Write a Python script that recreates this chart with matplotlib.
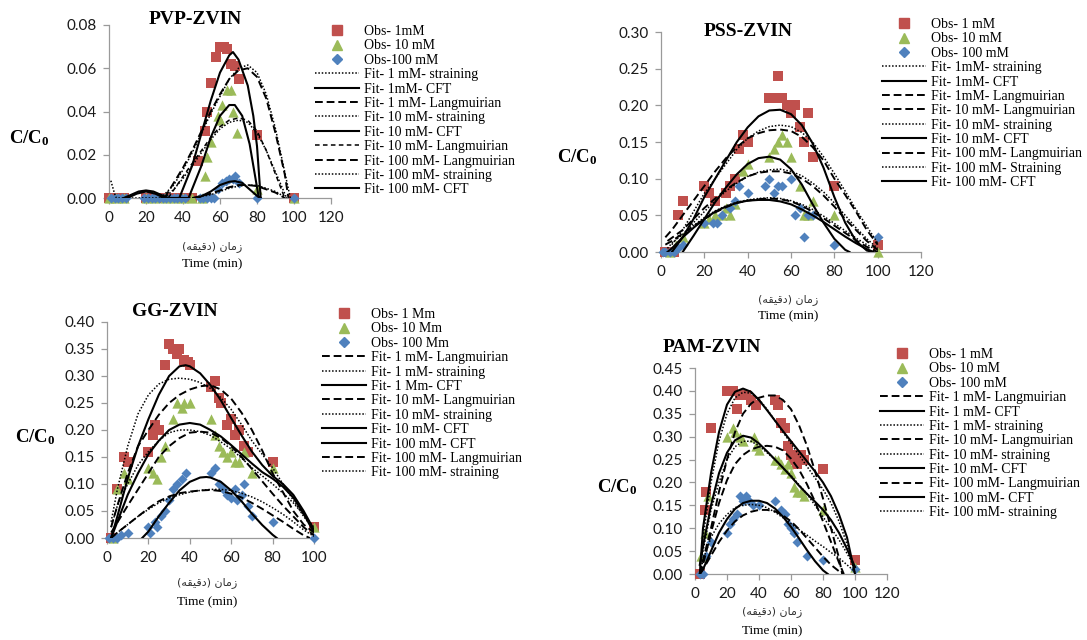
import matplotlib
matplotlib.use("Agg")
import matplotlib.pyplot as plt
from matplotlib.lines import Line2D

plt.rcParams['mathtext.fontset'] = 'custom'
plt.rcParams['mathtext.rm'] = 'Liberation Serif'
plt.rcParams['mathtext.bf'] = 'Liberation Serif:bold'

RED, GREEN, BLUE = '#C0504D', '#9BBB59', '#4F81BD'

# ---------------- PVP-ZVIN ----------------
pvp_x_1mm = [0, 4, 8, 20, 25, 30, 35, 40, 45, 48, 52, 53, 55, 58, 60, 62, 64, 66, 68, 70, 80, 100]
pvp_y_1mm = [0, 0, 0, 0, 0, 0, 0, 0, 0, 0.017, 0.031, 0.040, 0.053, 0.065, 0.070, 0.070, 0.069, 0.062, 0.061, 0.055, 0.029, 0]
pvp_x_10mm = [0, 4, 8, 20, 25, 30, 35, 40, 45, 50, 52, 53, 55, 59, 60, 61, 64, 66, 67, 69, 80, 100]
pvp_y_10mm = [0, 0, 0, 0, 0, 0, 0, 0, 0, 0, 0.010, 0.019, 0.026, 0.038, 0.036, 0.043, 0.050, 0.050, 0.040, 0.030, 0.004, 0]
pvp_x_100mm = [1, 3, 5, 7, 9, 19, 21, 23, 25, 27, 29, 31, 33, 35, 37, 39, 41, 49, 51, 53, 55, 57, 59, 61, 63, 65, 67, 68, 70, 80, 100]
pvp_y_100mm = [0, 0, 0, 0, 0, 0, 0, 0, 0, 0, 0, 0, 0, 0, 0, 0, 0, 0, 0, 0, 0, 0, 0.004, 0.007, 0.008, 0.009, 0.009, 0.010, 0.007, 0, 0]

pvp_fit_1mm_str_x = [28, 35, 40, 45, 50, 55, 60, 65, 70, 75, 80, 85, 90, 95, 98]
pvp_fit_1mm_str_y = [0, 0.006, 0.013, 0.021, 0.030, 0.039, 0.047, 0.055, 0.060, 0.0615, 0.058, 0.048, 0.032, 0.012, 0]
pvp_fit_1mm_cft_x = [8, 12, 16, 20, 24, 28, 32, 38, 45, 50, 55, 60, 65, 67, 70, 75, 78, 80, 82]
pvp_fit_1mm_cft_y = [0, 0.0015, 0.003, 0.0035, 0.003, 0.0015, 0, 0, 0.015, 0.030, 0.045, 0.058, 0.066, 0.0675, 0.064, 0.052, 0.038, 0.024, 0]
pvp_fit_1mm_lan_x = [30, 35, 40, 45, 50, 55, 60, 65, 70, 75, 80, 85, 90, 95, 97]
pvp_fit_1mm_lan_y = [0, 0.007, 0.014, 0.022, 0.031, 0.040, 0.048, 0.055, 0.059, 0.060, 0.056, 0.046, 0.030, 0.011, 0]
pvp_fit_10mm_str_x = [30, 35, 40, 45, 50, 55, 60, 65, 70, 75, 80, 85, 90, 95, 96]
pvp_fit_10mm_str_y = [0, 0.004, 0.009, 0.015, 0.021, 0.027, 0.032, 0.035, 0.036, 0.035, 0.030, 0.022, 0.012, 0.002, 0]
pvp_fit_10mm_cft_x = [10, 15, 20, 25, 30, 43, 50, 55, 60, 65, 68, 72, 76, 79, 81]
pvp_fit_10mm_cft_y = [0, 0.002, 0.003, 0.002, 0, 0, 0.015, 0.028, 0.038, 0.043, 0.043, 0.038, 0.025, 0.010, 0]
pvp_fit_10mm_lan_x = [32, 40, 45, 50, 55, 60, 65, 70, 75, 80, 85, 90, 95]
pvp_fit_10mm_lan_y = [0, 0.010, 0.016, 0.022, 0.028, 0.033, 0.036, 0.037, 0.036, 0.031, 0.022, 0.011, 0]
pvp_fit_100mm_lan_x = [45, 55, 60, 65, 70, 75, 80, 85, 90, 95]
pvp_fit_100mm_lan_y = [0, 0.002, 0.0035, 0.005, 0.006, 0.006, 0.0055, 0.004, 0.0025, 0]
pvp_fit_100mm_str_x = [1, 3, 4, 45, 55, 60, 65, 70, 75, 80, 85, 90, 96]
pvp_fit_100mm_str_y = [0.008, 0.002, 0, 0, 0.0015, 0.003, 0.0045, 0.0055, 0.006, 0.0058, 0.0045, 0.003, 0]
pvp_fit_100mm_cft_x = [48, 55, 60, 65, 68, 72, 76, 80, 82]
pvp_fit_100mm_cft_y = [0, 0.003, 0.006, 0.0075, 0.0078, 0.007, 0.004, 0.001, 0]

# ---------------- PSS-ZVIN ----------------
pss_x_1mm = [2, 4, 6, 8, 10, 20, 22, 25, 30, 32, 34, 36, 38, 40, 50, 53, 54, 56, 58, 60, 62, 64, 66, 68, 70, 80, 100]
pss_y_1mm = [0, 0, 0, 0.05, 0.07, 0.09, 0.08, 0.07, 0.08, 0.09, 0.10, 0.14, 0.16, 0.15, 0.21, 0.21, 0.24, 0.21, 0.20, 0.19, 0.20, 0.17, 0.15, 0.19, 0.13, 0.09, 0.01]
pss_x_10mm = [4, 7, 10, 20, 22, 25, 28, 30, 32, 34, 38, 40, 50, 52, 54, 56, 58, 60, 64, 66, 68, 70, 80, 100]
pss_y_10mm = [0, 0.01, 0.02, 0.04, 0.045, 0.05, 0.05, 0.06, 0.05, 0.065, 0.11, 0.12, 0.13, 0.14, 0.15, 0.16, 0.15, 0.13, 0.09, 0.05, 0.05, 0.07, 0.05, 0.0]
pss_x_100mm = [1, 2, 4, 6, 8, 10, 20, 24, 26, 28, 32, 34, 36, 40, 48, 50, 52, 54, 56, 60, 62, 64, 66, 68, 70, 80, 100]
pss_y_100mm = [0, 0, 0, 0, 0.005, 0.01, 0.04, 0.04, 0.04, 0.05, 0.06, 0.07, 0.09, 0.08, 0.09, 0.10, 0.08, 0.09, 0.09, 0.10, 0.05, 0.06, 0.02, 0.05, 0.05, 0.01, 0.02]

pss_fit_1mm_str_x = [5, 10, 15, 20, 25, 30, 35, 40, 45, 50, 55, 60, 65, 70, 75, 80, 85, 90, 95, 100]
pss_fit_1mm_str_y = [0.01, 0.03, 0.055, 0.08, 0.10, 0.12, 0.14, 0.155, 0.165, 0.171, 0.173, 0.171, 0.163, 0.15, 0.13, 0.107, 0.083, 0.058, 0.035, 0.012]
pss_fit_1mm_cft_x = [5, 10, 15, 20, 25, 30, 35, 40, 45, 50, 55, 60, 65, 70, 75, 80, 85, 90, 95, 98]
pss_fit_1mm_cft_y = [0, 0.02, 0.045, 0.075, 0.10, 0.125, 0.15, 0.17, 0.185, 0.193, 0.194, 0.188, 0.173, 0.148, 0.115, 0.075, 0.04, 0.015, 0.002, 0]
pss_fit_1mm_lan_x = [2, 5, 10, 15, 20, 25, 30, 35, 40, 45, 50, 55, 60, 65, 70, 75, 80, 85, 90, 95, 100]
pss_fit_1mm_lan_y = [0.02, 0.03, 0.05, 0.07, 0.09, 0.11, 0.128, 0.143, 0.155, 0.162, 0.166, 0.167, 0.165, 0.157, 0.143, 0.125, 0.10, 0.078, 0.055, 0.03, 0.01]
pss_fit_10mm_lan_x = [3, 10, 15, 20, 25, 30, 35, 40, 45, 50, 55, 60, 65, 70, 75, 80, 85, 90, 95, 100]
pss_fit_10mm_lan_y = [0.015, 0.03, 0.045, 0.06, 0.073, 0.085, 0.095, 0.103, 0.108, 0.11, 0.11, 0.107, 0.10, 0.09, 0.077, 0.062, 0.045, 0.03, 0.015, 0.003]
pss_fit_10mm_str_x = [5, 10, 15, 20, 25, 30, 35, 40, 45, 50, 55, 60, 65, 70, 75, 80, 85, 90, 95, 100]
pss_fit_10mm_str_y = [0.0, 0.02, 0.04, 0.055, 0.07, 0.083, 0.094, 0.103, 0.109, 0.112, 0.113, 0.11, 0.104, 0.094, 0.082, 0.067, 0.05, 0.033, 0.018, 0.005]
pss_fit_10mm_cft_x = [10, 15, 20, 25, 30, 35, 40, 45, 50, 55, 60, 65, 70, 75, 80, 85, 87]
pss_fit_10mm_cft_y = [0.0, 0.022, 0.045, 0.068, 0.088, 0.106, 0.12, 0.128, 0.13, 0.126, 0.113, 0.092, 0.065, 0.04, 0.018, 0.003, 0]
pss_fit_100mm_lan_x = [2, 5, 10, 15, 20, 25, 30, 35, 40, 45, 50, 55, 60, 65, 70, 75, 80, 85, 90, 95, 100]
pss_fit_100mm_lan_y = [0.01, 0.015, 0.025, 0.035, 0.045, 0.054, 0.061, 0.067, 0.07, 0.072, 0.073, 0.072, 0.069, 0.063, 0.055, 0.046, 0.036, 0.026, 0.016, 0.007, 0.0]
pss_fit_100mm_str_x = [3, 5, 10, 15, 20, 25, 30, 35, 40, 45, 50, 55, 60, 65, 70, 75, 80, 85, 90, 95, 100]
pss_fit_100mm_str_y = [0.005, 0.012, 0.024, 0.036, 0.047, 0.056, 0.063, 0.068, 0.071, 0.073, 0.074, 0.073, 0.07, 0.065, 0.058, 0.049, 0.039, 0.029, 0.019, 0.01, 0.002]
pss_fit_100mm_cft_x = [3, 5, 10, 15, 20, 25, 30, 35, 40, 45, 50, 55, 60, 65, 70, 75, 80, 85, 90, 95, 98]
pss_fit_100mm_cft_y = [0, 0.005, 0.02, 0.033, 0.045, 0.055, 0.062, 0.067, 0.07, 0.071, 0.071, 0.069, 0.065, 0.058, 0.05, 0.041, 0.031, 0.021, 0.012, 0.004, 0]

# ---------------- GG-ZVIN ----------------
gg_x_1mm = [2, 5, 8, 10, 20, 22, 23, 25, 28, 30, 32, 34, 35, 37, 39, 40, 50, 52, 54, 55, 58, 60, 62, 64, 66, 68, 80, 100]
gg_y_1mm = [0, 0.09, 0.15, 0.14, 0.16, 0.19, 0.21, 0.20, 0.32, 0.36, 0.35, 0.34, 0.35, 0.33, 0.325, 0.32, 0.28, 0.29, 0.26, 0.25, 0.21, 0.22, 0.19, 0.20, 0.17, 0.16, 0.14, 0.02]
gg_x_10mm = [3, 5, 8, 10, 20, 22, 24, 26, 28, 32, 34, 36, 37, 40, 50, 52, 54, 56, 58, 60, 62, 64, 66, 70, 80, 100]
gg_y_10mm = [0.0, 0.09, 0.12, 0.11, 0.13, 0.12, 0.11, 0.15, 0.17, 0.22, 0.25, 0.24, 0.25, 0.25, 0.22, 0.19, 0.17, 0.16, 0.15, 0.16, 0.14, 0.14, 0.16, 0.12, 0.13, 0.02]
gg_x_100mm = [1, 3, 5, 7, 10, 20, 21, 23, 24, 26, 28, 30, 32, 34, 36, 38, 50, 52, 54, 56, 58, 60, 62, 63, 65, 66, 68, 70, 80, 100]
gg_y_100mm = [0, 0, 0, 0.005, 0.01, 0.02, 0.01, 0.03, 0.02, 0.04, 0.05, 0.07, 0.09, 0.10, 0.11, 0.12, 0.12, 0.13, 0.10, 0.09, 0.08, 0.075, 0.09, 0.07, 0.08, 0.10, 0.06, 0.04, 0.03, 0.0]

gg_fit_1mm_lan_x = [2, 5, 10, 15, 20, 25, 30, 35, 40, 45, 50, 55, 60, 65, 70, 75, 80, 85, 90, 95, 100]
gg_fit_1mm_lan_y = [0.02, 0.06, 0.12, 0.17, 0.20, 0.228, 0.25, 0.265, 0.275, 0.281, 0.283, 0.275, 0.258, 0.232, 0.20, 0.162, 0.12, 0.085, 0.05, 0.025, 0.01]
gg_fit_1mm_str_x = [2, 5, 10, 15, 20, 25, 30, 35, 40, 45, 50, 55, 60, 65, 70, 75, 80, 85, 90, 95, 100]
gg_fit_1mm_str_y = [0.03, 0.09, 0.17, 0.23, 0.265, 0.285, 0.294, 0.296, 0.294, 0.288, 0.277, 0.26, 0.238, 0.21, 0.18, 0.155, 0.13, 0.10, 0.07, 0.04, 0.015]
gg_fit_1mm_cft_x = [2, 5, 10, 15, 20, 25, 30, 35, 38, 40, 45, 50, 55, 60, 65, 70, 75, 80, 85, 90, 95, 100]
gg_fit_1mm_cft_y = [0, 0.04, 0.11, 0.17, 0.22, 0.265, 0.30, 0.318, 0.32, 0.318, 0.305, 0.283, 0.255, 0.222, 0.19, 0.16, 0.135, 0.115, 0.10, 0.08, 0.05, 0.015]
gg_fit_10mm_lan_x = [2, 10, 20, 25, 30, 35, 40, 45, 50, 55, 60, 65, 70, 75, 80, 85, 90, 95, 100]
gg_fit_10mm_lan_y = [0.01, 0.06, 0.12, 0.15, 0.17, 0.185, 0.195, 0.197, 0.195, 0.185, 0.17, 0.15, 0.128, 0.105, 0.082, 0.06, 0.04, 0.02, 0.005]
gg_fit_10mm_str_x = [2, 5, 10, 15, 20, 25, 30, 35, 40, 45, 50, 55, 60, 65, 70, 75, 80, 85, 90, 95, 100]
gg_fit_10mm_str_y = [0.02, 0.06, 0.10, 0.135, 0.16, 0.18, 0.195, 0.2, 0.2, 0.197, 0.19, 0.178, 0.165, 0.148, 0.13, 0.115, 0.10, 0.083, 0.065, 0.043, 0.02]
gg_fit_10mm_cft_x = [2, 5, 10, 15, 20, 25, 30, 35, 40, 45, 50, 55, 60, 65, 70, 75, 80, 85, 90, 95, 100]
gg_fit_10mm_cft_y = [0, 0.03, 0.08, 0.12, 0.155, 0.18, 0.20, 0.21, 0.213, 0.21, 0.20, 0.188, 0.172, 0.155, 0.138, 0.122, 0.11, 0.095, 0.075, 0.045, 0.01]
gg_fit_100mm_cft_x = [17, 20, 25, 30, 35, 40, 45, 48, 50, 55, 60, 65, 70, 75, 80, 82]
gg_fit_100mm_cft_y = [0, 0.012, 0.04, 0.065, 0.088, 0.104, 0.112, 0.113, 0.112, 0.104, 0.088, 0.068, 0.045, 0.024, 0.006, 0]
gg_fit_100mm_lan_x = [2, 5, 10, 15, 20, 25, 30, 35, 40, 45, 50, 55, 60, 65, 70, 75, 80, 85, 90, 95, 98]
gg_fit_100mm_lan_y = [0, 0.01, 0.025, 0.04, 0.055, 0.068, 0.077, 0.083, 0.086, 0.088, 0.089, 0.087, 0.082, 0.075, 0.065, 0.054, 0.042, 0.03, 0.017, 0.005, 0]
gg_fit_100mm_str_x = [2, 5, 10, 15, 20, 25, 30, 35, 40, 45, 50, 55, 60, 65, 70, 75, 80, 85, 90, 95, 100]
gg_fit_100mm_str_y = [0, 0.01, 0.025, 0.04, 0.053, 0.065, 0.074, 0.08, 0.085, 0.088, 0.09, 0.09, 0.088, 0.083, 0.076, 0.067, 0.056, 0.044, 0.03, 0.015, 0.003]

# ---------------- PAM-ZVIN ----------------
pam_x_1mm = [3, 6, 7, 10, 20, 24, 26, 28, 30, 32, 35, 38, 50, 52, 54, 56, 58, 60, 62, 64, 66, 68, 80, 100]
pam_y_1mm = [0, 0.14, 0.18, 0.32, 0.40, 0.40, 0.36, 0.39, 0.39, 0.39, 0.38, 0.37, 0.38, 0.37, 0.33, 0.32, 0.28, 0.26, 0.25, 0.24, 0.26, 0.25, 0.23, 0.03]
pam_x_10mm = [4, 6, 8, 20, 24, 25, 28, 30, 37, 38, 40, 50, 52, 54, 56, 58, 60, 62, 64, 66, 68, 80, 100]
pam_y_10mm = [0.04, 0.09, 0.17, 0.30, 0.32, 0.31, 0.30, 0.29, 0.30, 0.28, 0.27, 0.25, 0.25, 0.24, 0.23, 0.24, 0.22, 0.19, 0.18, 0.18, 0.17, 0.14, 0.015]
pam_x_100mm = [3, 5, 7, 10, 20, 22, 24, 26, 28, 30, 32, 34, 36, 40, 50, 54, 56, 58, 60, 62, 64, 70, 80, 100]
pam_y_100mm = [0, 0, 0.04, 0.07, 0.09, 0.11, 0.12, 0.13, 0.17, 0.16, 0.17, 0.16, 0.15, 0.15, 0.16, 0.14, 0.13, 0.11, 0.10, 0.09, 0.07, 0.04, 0.03, 0.01]

pam_fit_1mm_lan_x = [3, 5, 10, 15, 20, 25, 30, 35, 40, 45, 50, 55, 60, 65, 70, 75, 80, 85, 90, 92]
pam_fit_1mm_lan_y = [0, 0.03, 0.10, 0.18, 0.25, 0.31, 0.35, 0.372, 0.385, 0.39, 0.39, 0.38, 0.36, 0.325, 0.28, 0.225, 0.165, 0.10, 0.035, 0]
pam_fit_1mm_cft_x = [3, 5, 10, 15, 20, 25, 30, 35, 40, 45, 50, 55, 60, 65, 70, 75, 80, 85, 90, 95, 100]
pam_fit_1mm_cft_y = [0, 0.10, 0.22, 0.31, 0.37, 0.398, 0.405, 0.398, 0.38, 0.358, 0.335, 0.312, 0.29, 0.268, 0.246, 0.224, 0.20, 0.17, 0.13, 0.08, 0.0]
pam_fit_1mm_str_x = [3, 5, 10, 15, 20, 25, 30, 35, 40, 45, 50, 55, 60, 65, 70, 75, 80, 85, 90, 95, 100]
pam_fit_1mm_str_y = [0, 0.08, 0.20, 0.29, 0.35, 0.385, 0.397, 0.395, 0.382, 0.36, 0.335, 0.31, 0.285, 0.26, 0.235, 0.21, 0.185, 0.155, 0.115, 0.065, 0.0]
pam_fit_10mm_lan_x = [3, 5, 10, 15, 20, 25, 30, 35, 40, 45, 50, 55, 60, 65, 70, 75, 80, 85, 90, 93]
pam_fit_10mm_lan_y = [0, 0.02, 0.09, 0.155, 0.205, 0.24, 0.26, 0.272, 0.278, 0.28, 0.278, 0.27, 0.252, 0.228, 0.196, 0.158, 0.115, 0.07, 0.025, 0]
pam_fit_10mm_str_x = [3, 5, 10, 15, 20, 25, 30, 35, 40, 45, 50, 55, 60, 65, 70, 75, 80, 85, 90, 95, 100]
pam_fit_10mm_str_y = [0.02, 0.05, 0.14, 0.20, 0.25, 0.278, 0.29, 0.29, 0.28, 0.265, 0.25, 0.232, 0.215, 0.195, 0.175, 0.15, 0.125, 0.10, 0.075, 0.045, 0.015]
pam_fit_10mm_cft_x = [3, 5, 10, 15, 20, 25, 30, 35, 40, 45, 50, 55, 60, 65, 70, 75, 80, 85, 90, 95, 100]
pam_fit_10mm_cft_y = [0.02, 0.06, 0.15, 0.22, 0.265, 0.292, 0.302, 0.298, 0.285, 0.268, 0.25, 0.232, 0.213, 0.193, 0.175, 0.158, 0.14, 0.118, 0.09, 0.055, 0.015]
pam_fit_100mm_lan_x = [3, 5, 10, 15, 20, 25, 30, 35, 40, 45, 50, 55, 60, 65, 70, 75, 80, 85, 90, 93]
pam_fit_100mm_lan_y = [0, 0.01, 0.04, 0.07, 0.095, 0.115, 0.128, 0.136, 0.14, 0.14, 0.137, 0.128, 0.115, 0.098, 0.078, 0.058, 0.038, 0.02, 0.006, 0]
pam_fit_100mm_cft_x = [3, 5, 10, 15, 20, 25, 30, 35, 40, 45, 50, 55, 60, 65, 70, 75, 80, 83]
pam_fit_100mm_cft_y = [0, 0.01, 0.05, 0.09, 0.12, 0.142, 0.155, 0.16, 0.16, 0.155, 0.143, 0.125, 0.103, 0.078, 0.052, 0.028, 0.008, 0]
pam_fit_100mm_str_x = [3, 5, 10, 15, 20, 25, 30, 35, 40, 45, 50, 55, 60, 65, 70, 75, 80, 85, 90, 95, 100]
pam_fit_100mm_str_y = [0, 0.03, 0.08, 0.11, 0.13, 0.145, 0.15, 0.152, 0.15, 0.145, 0.135, 0.123, 0.11, 0.097, 0.085, 0.072, 0.06, 0.047, 0.035, 0.02, 0.005]

# tick labels
pvp_yticks = [0.00, 0.02, 0.04, 0.06, 0.08]
pss_yticks = [0.00, 0.05, 0.10, 0.15, 0.20, 0.25, 0.30]
gg_yticks = [0.00, 0.05, 0.10, 0.15, 0.20, 0.25, 0.30, 0.35, 0.40]
pam_yticks = [0.00, 0.05, 0.10, 0.15, 0.20, 0.25, 0.30, 0.35, 0.40, 0.45]
xticks_120 = [0, 20, 40, 60, 80, 100, 120]
xticks_100 = [0, 20, 40, 60, 80, 100]

W, H = 1087, 640
fig = plt.figure(figsize=(W / 100, H / 100), dpi=100)

SERIF = 'Liberation Serif'
TICKFONT = 'Lato'
AXCOL = '#9A9A9A'

persian = "(\uFEEA\uFED8\uFEF4\uFED7\uFEA9) \uFEE5\uFE8E\uFEE3\uFEAF"


def make_axes(x0, x1, y0, y1, xmax, ymax, yticks, xticks):
    ax = fig.add_axes([x0 / W, 1 - y0 / H, (x1 - x0) / W, (y0 - y1) / H])
    ax.set_xlim(0, xmax)
    ax.set_ylim(0, ymax)
    ax.set_yticks(yticks)
    ax.set_yticklabels(['%.2f' % v for v in yticks])
    ax.set_xticks(xticks)
    ax.set_xticklabels([str(v) for v in xticks])
    for s in ['top', 'right']:
        ax.spines[s].set_visible(False)
    for s in ['left', 'bottom']:
        ax.spines[s].set_color(AXCOL)
        ax.spines[s].set_linewidth(0.9)
    ax.tick_params(direction='out', length=4, width=0.9, color=AXCOL, pad=5,
                   labelsize=11, labelcolor='#1a1a1a')
    for lab in ax.get_xticklabels() + ax.get_yticklabels():
        lab.set_fontfamily(TICKFONT)
    ax.patch.set_alpha(0)
    return ax


def style_for(label):
    if 'CFT' in label:
        return dict(linestyle='-', linewidth=1.5)
    if 'training' in label:
        return dict(linestyle=(0, (1, 1.2)), linewidth=1.1)
    return dict(linestyle=(0, (4, 2)), linewidth=1.4)


def draw_panel(ax, obs, fits, legend_pos, title, title_pos, ylab_pos, xlab_x, xlab_y):
    handles = []
    for (xs, ys, marker, color, size, lab) in obs:
        ax.scatter(xs, ys, marker=marker, s=size, color=color, zorder=3, clip_on=False, linewidths=0)
        handles.append(Line2D([], [], marker=marker, color=color, linestyle='None',
                              markersize=6.5 if marker != 'D' else 5, label=lab))
    for (xs, ys, lab, st) in fits:
        stl = style_for(lab) if st is None else st
        ax.plot(xs, ys, color='black', zorder=4, **stl)
        handles.append(Line2D([], [], color='black', label=lab, **stl))
    fig.legend(handles=handles, loc='upper left',
               bbox_to_anchor=(legend_pos[0] / W, 1 - legend_pos[1] / H),
               frameon=False, borderpad=0, borderaxespad=0, handlelength=3.2,
               handletextpad=0.35, labelspacing=0.1,
               prop={'family': SERIF, 'size': 10})
    fig.text(title_pos[0] / W, 1 - title_pos[1] / H, title, ha='center', va='center',
             fontfamily=SERIF, fontweight='bold', fontsize=14)
    fig.text(ylab_pos[0] / W, 1 - ylab_pos[1] / H, r'$\mathbf{C/C_0}$', ha='center', va='center',
             fontsize=13.5)
    fig.text(xlab_x / W, 1 - xlab_y[0] / H, persian, ha='center', va='center',
             fontfamily='DejaVu Sans', fontsize=8, color='#333333')
    fig.text(xlab_x / W, 1 - xlab_y[1] / H, 'Time (min)', ha='center', va='center',
             fontfamily=SERIF, fontsize=9.5)


# PVP
ax1 = make_axes(109, 331, 198, 25, 120, 0.08, pvp_yticks, xticks_120)
draw_panel(
    ax1,
    [(pvp_x_1mm, pvp_y_1mm, 's', RED, 48, 'Obs- 1mM'),
     (pvp_x_10mm, pvp_y_10mm, '^', GREEN, 55, 'Obs- 10 mM'),
     (pvp_x_100mm, pvp_y_100mm, 'D', BLUE, 26, 'Obs-100 mM')],
    [(pvp_fit_1mm_str_x, pvp_fit_1mm_str_y, 'Fit- 1 mM- straining', None),
     (pvp_fit_1mm_cft_x, pvp_fit_1mm_cft_y, 'Fit- 1mM- CFT', None),
     (pvp_fit_1mm_lan_x, pvp_fit_1mm_lan_y, 'Fit- 1 mM- Langmuirian', None),
     (pvp_fit_10mm_str_x, pvp_fit_10mm_str_y, 'Fit- 10 mM- straining', None),
     (pvp_fit_10mm_cft_x, pvp_fit_10mm_cft_y, 'Fit- 10 mM- CFT', None),
     (pvp_fit_10mm_lan_x, pvp_fit_10mm_lan_y, 'Fit- 10 mM- Langmuirian',
      dict(linestyle=(0, (3, 2.2)), linewidth=1.1)),
     (pvp_fit_100mm_lan_x, pvp_fit_100mm_lan_y, 'Fit- 100 mM- Langmuirian', None),
     (pvp_fit_100mm_str_x, pvp_fit_100mm_str_y, 'Fit- 100 mM- straining', None),
     (pvp_fit_100mm_cft_x, pvp_fit_100mm_cft_y, 'Fit- 100 mM- CFT', None)],
    (315, 25), 'PVP-ZVIN', (195, 20), (29, 138), 212, (247, 264))

# PSS
ax2 = make_axes(661, 921, 252, 32, 120, 0.30, pss_yticks, xticks_120)
draw_panel(
    ax2,
    [(pss_x_1mm, pss_y_1mm, 's', RED, 48, 'Obs- 1 mM'),
     (pss_x_10mm, pss_y_10mm, '^', GREEN, 55, 'Obs- 10 mM'),
     (pss_x_100mm, pss_y_100mm, 'D', BLUE, 26, 'Obs- 100 mM')],
    [(pss_fit_1mm_str_x, pss_fit_1mm_str_y, 'Fit- 1mM- straining', None),
     (pss_fit_1mm_cft_x, pss_fit_1mm_cft_y, 'Fit- 1mM- CFT', None),
     (pss_fit_1mm_lan_x, pss_fit_1mm_lan_y, 'Fit- 1mM- Langmuirian', None),
     (pss_fit_10mm_lan_x, pss_fit_10mm_lan_y, 'Fit- 10 mM- Langmuirian', None),
     (pss_fit_10mm_str_x, pss_fit_10mm_str_y, 'Fit- 10 mM- straining', None),
     (pss_fit_10mm_cft_x, pss_fit_10mm_cft_y, 'Fit- 10 mM- CFT', None),
     (pss_fit_100mm_lan_x, pss_fit_100mm_lan_y, 'Fit- 100 mM- Langmuirian', None),
     (pss_fit_100mm_str_x, pss_fit_100mm_str_y, 'Fit- 100 mM- Straining', None),
     (pss_fit_100mm_cft_x, pss_fit_100mm_cft_y, 'Fit- 100 mM- CFT', None)],
    (882, 18), 'PSS-ZVIN', (748, 31), (577, 157), 788, (300, 316))

# GG
ax3 = make_axes(107, 314, 538, 322, 100, 0.40, gg_yticks, xticks_100)
draw_panel(
    ax3,
    [(gg_x_1mm, gg_y_1mm, 's', RED, 48, 'Obs- 1 Mm'),
     (gg_x_10mm, gg_y_10mm, '^', GREEN, 55, 'Obs- 10 Mm'),
     (gg_x_100mm, gg_y_100mm, 'D', BLUE, 26, 'Obs- 100 Mm')],
    [(gg_fit_1mm_lan_x, gg_fit_1mm_lan_y, 'Fit- 1 mM- Langmuirian', None),
     (gg_fit_1mm_str_x, gg_fit_1mm_str_y, 'Fit- 1 mM- straining', None),
     (gg_fit_1mm_cft_x, gg_fit_1mm_cft_y, 'Fit- 1 Mm- CFT', None),
     (gg_fit_10mm_lan_x, gg_fit_10mm_lan_y, 'Fit- 10 mM- Langmuirian', None),
     (gg_fit_10mm_str_x, gg_fit_10mm_str_y, 'Fit- 10 mM- straining', None),
     (gg_fit_10mm_cft_x, gg_fit_10mm_cft_y, 'Fit- 10 mM- CFT', None),
     (gg_fit_100mm_cft_x, gg_fit_100mm_cft_y, 'Fit- 100 mM- CFT', None),
     (gg_fit_100mm_lan_x, gg_fit_100mm_lan_y, 'Fit- 100 mM- Langmuirian', None),
     (gg_fit_100mm_str_x, gg_fit_100mm_str_y, 'Fit- 100 mM- straining', None)],
    (322, 308), 'GG-ZVIN', (175, 311), (35, 437), 207, (583, 602))

# PAM
ax4 = make_axes(695, 887, 574, 368, 120, 0.45, pam_yticks, xticks_120)
draw_panel(
    ax4,
    [(pam_x_1mm, pam_y_1mm, 's', RED, 48, 'Obs- 1 mM'),
     (pam_x_10mm, pam_y_10mm, '^', GREEN, 55, 'Obs- 10 mM'),
     (pam_x_100mm, pam_y_100mm, 'D', BLUE, 26, 'Obs- 100 mM')],
    [(pam_fit_1mm_lan_x, pam_fit_1mm_lan_y, 'Fit- 1 mM- Langmuirian', None),
     (pam_fit_1mm_cft_x, pam_fit_1mm_cft_y, 'Fit- 1 mM- CFT', None),
     (pam_fit_1mm_str_x, pam_fit_1mm_str_y, 'Fit- 1 mM- straining', None),
     (pam_fit_10mm_lan_x, pam_fit_10mm_lan_y, 'Fit- 10 mM- Langmuirian', None),
     (pam_fit_10mm_str_x, pam_fit_10mm_str_y, 'Fit- 10 mM- straining', None),
     (pam_fit_10mm_cft_x, pam_fit_10mm_cft_y, 'Fit- 10 mM- CFT', None),
     (pam_fit_100mm_lan_x, pam_fit_100mm_lan_y, 'Fit- 100 mM- Langmuirian', None),
     (pam_fit_100mm_cft_x, pam_fit_100mm_cft_y, 'Fit- 100 mM- CFT', None),
     (pam_fit_100mm_str_x, pam_fit_100mm_str_y, 'Fit- 100 mM- straining', None)],
    (880, 348), 'PAM-ZVIN', (712, 348), (617, 487), 772, (612, 631))

fig.savefig('out.png', dpi=100)
